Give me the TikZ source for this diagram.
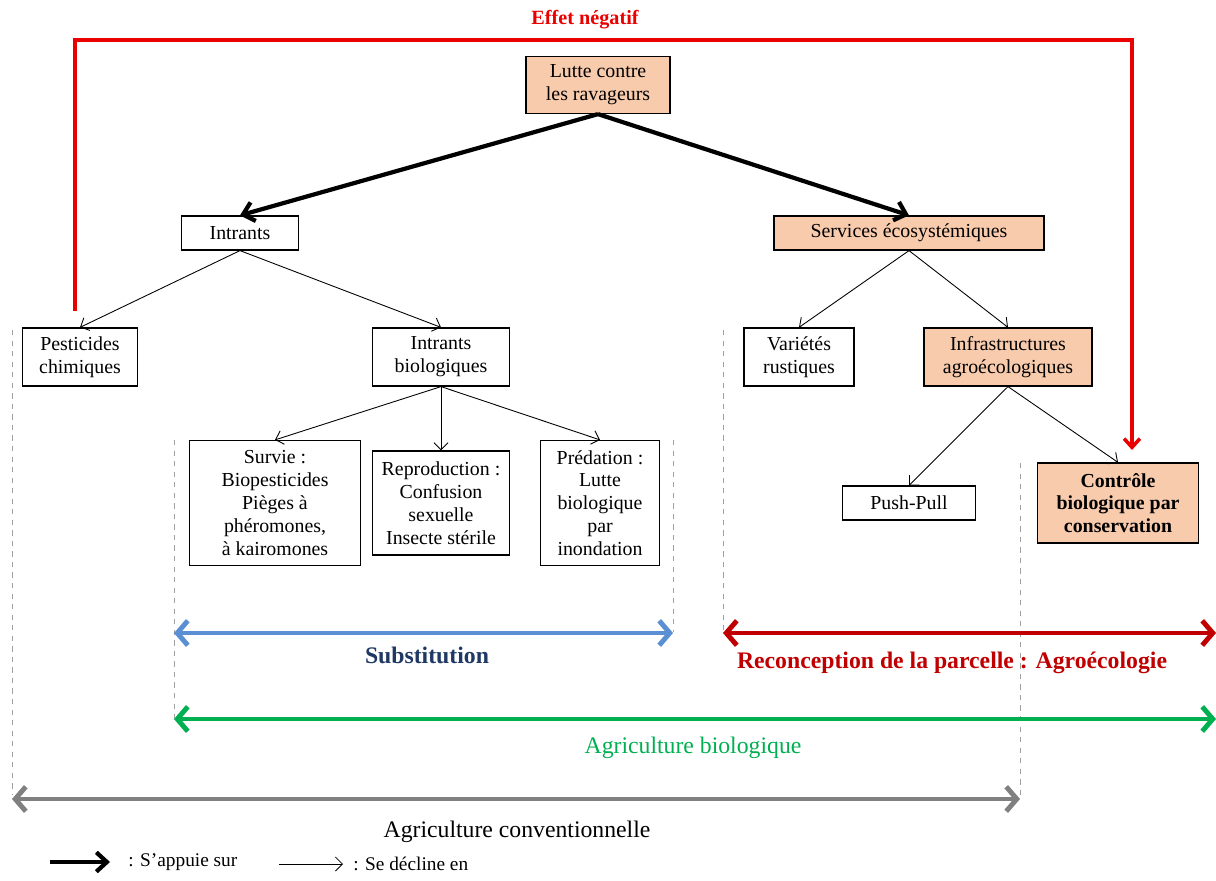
\documentclass[tikz,border=0pt]{standalone}
\usepackage{fontspec}
\setmainfont{Liberation Serif}
\usetikzlibrary{positioning,arrows.meta}
\definecolor{peche}{RGB}{248,203,173}
\definecolor{rougevif}{RGB}{235,0,0}
\definecolor{rougefonce}{RGB}{192,0,0}
\definecolor{bleuclair}{RGB}{91,143,211}
\definecolor{bleunuit}{RGB}{31,56,100}
\definecolor{vert}{RGB}{0,176,80}
\definecolor{gris}{RGB}{128,128,128}
\definecolor{tiret}{RGB}{160,160,160}
\begin{document}
\begin{tikzpicture}[x=0.02cm,y=-0.02cm]
		\tikzstyle{every node}+=[inner sep=0pt]
		\tikzstyle{boite}=[draw=black, line width=0.7pt, align=center, font=\fontsize{11.3}{13}\selectfont]
		\tikzstyle{appui}=[line width=2.4pt, -{Straight Barb[length=6pt,width=11pt]}]
		\tikzstyle{decline}=[line width=0.5pt, -{Straight Barb[length=4pt,width=8pt]}]
		\tikzstyle{portee}=[line width=2.8pt, {Straight Barb[length=6pt,width=14pt]}-{Straight Barb[length=6pt,width=14pt]}]
		\tikzstyle{limite}=[draw=tiret, line width=0.5pt, dashed]
		\tikzstyle{grand}=[font=\fontsize{13.5}{15}\selectfont]
		\tikzstyle{grandgras}=[font=\fontsize{13.5}{15}\selectfont\bfseries]
		\useasboundingbox (0,0) rectangle (1216,881);
		\node [boite, fill=peche, minimum width=2.88cm, minimum height=1.14cm] (lutte) at (598,85) {Lutte contre\\les ravageurs};
		\node [boite, minimum width=2.34cm, minimum height=0.68cm] (intr) at (240,233) {Intrants};
		\node [boite, fill=peche, minimum width=5.4cm, minimum height=0.68cm] (serv) at (909,233) {Services écosystémiques};
		\node [boite, minimum width=2.3cm, minimum height=1.16cm] (pest) at (80,357) {Pesticides\\chimiques};
		\node [boite, minimum width=2.74cm, minimum height=1.16cm] (ibio) at (441,357) {Intrants\\biologiques};
		\node [boite, minimum width=2.2cm, minimum height=1.16cm] (vari) at (799,357) {Variétés\\rustiques};
		\node [boite, fill=peche, minimum width=3.36cm, minimum height=1.16cm] (infra) at (1008,357) {Infrastructures\\agroécologiques};
		\node [boite, minimum width=3.42cm, minimum height=2.5cm] (survie) at (275,503) {Survie :\\Biopesticides\\Pièges à\\phéromones,\\à kairomones};
		\node [boite, minimum width=2.74cm, minimum height=2.08cm] (repro) at (441,503) {Reproduction :\\Confusion\\sexuelle\\Insecte stérile};
		\node [boite, minimum width=2.38cm, minimum height=2.5cm] (preda) at (600,503) {Prédation :\\Lutte\\biologique\\par\\inondation};
		\node [boite, minimum width=2.66cm, minimum height=0.68cm] (push) at (909,503) {Push-Pull};
		\node [boite, fill=peche, minimum width=3.22cm, minimum height=1.6cm, font=\fontsize{11.3}{13}\selectfont\bfseries] (ctrl) at (1118,503) {Contrôle\\biologique par\\conservation};
		\draw [appui] (lutte.south) -- (intr.north);
		\draw [appui] (lutte.south) -- (serv.north);
		\draw [decline] (intr.south) -- (pest.north);
		\draw [decline] (intr.south) -- (ibio.north);
		\draw [decline] (ibio.south) -- (survie.north);
		\draw [decline] (ibio.south) -- (repro.north);
		\draw [decline] (ibio.south) -- (preda.north);
		\draw [decline] (serv.south) -- (vari.north);
		\draw [decline] (serv.south) -- (infra.north);
		\draw [decline] (infra.south) -- (push.north);
		\draw [decline] (infra.south) -- (ctrl.north);
		\coordinate (effA) at (75,311);
		\coordinate (effB) at (1132,450);
		\draw [rougevif, line width=2pt, -{Straight Barb[length=5pt,width=9pt]}] (effA) -- ++(0,-271) -| (effB);
		\node [text=rougevif, font=\fontsize{11.5}{13}\selectfont\bfseries] (effet) at (585,20) {Effet négatif};
		\draw [limite] (12,330) -- (12,795);
		\draw [limite] (174,440) -- (174,718);
		\draw [limite] (673,440) -- (673,632);
		\draw [limite] (723,330) -- (723,632);
		\draw [limite] (1020,463) -- (1020,797);
		\coordinate (subG) at (174,633);
		\coordinate (subD) at (673,633);
		\coordinate (recG) at (723,633);
		\coordinate (recD) at (1216,633);
		\coordinate (bioG) at (174,719);
		\coordinate (bioD) at (1216,719);
		\coordinate (conG) at (12,799);
		\coordinate (conD) at (1020,799);
		\draw [portee, bleuclair] (subG) -- (subD);
		\draw [portee, rougefonce] (recG) -- (recD);
		\draw [portee, vert] (bioG) -- (bioD);
		\draw [portee, gris] (conG) -- (conD);
		\node [grandgras, text=bleunuit] (subst) at (427,655) {Substitution};
		\node [grandgras, text=rougefonce] (recon) at (952,663) {Reconception de la parcelle : Agroécologie};
		\node [grand, text=vert] (agbio) at (693,748) {Agriculture biologique};
		\node [grand] (agconv) at (517,832) {Agriculture conventionnelle};
		\coordinate (lgA) at (50,862);
		\coordinate (lgB) at (110,862);
		\coordinate (lgC) at (279,864);
		\coordinate (lgD) at (343,864);
		\draw [appui] (lgA) -- (lgB);
		\draw [decline] (lgC) -- (lgD);
		\node [anchor=west, font=\fontsize{11}{13}\selectfont] (leg1) at (128,862) {: S’appuie sur};
		\node [anchor=west, font=\fontsize{11}{13}\selectfont] (leg2) at (353,864) {: Se décline en};
\end{tikzpicture}
\end{document}
